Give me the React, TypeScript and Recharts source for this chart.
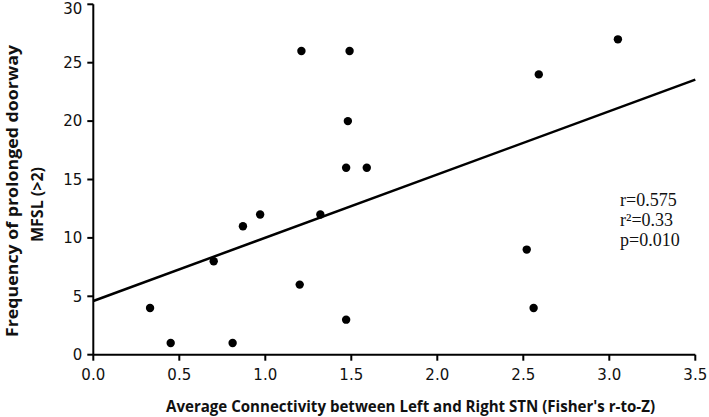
import React from 'react';
import { ScatterChart, Scatter, XAxis, YAxis, ReferenceLine, Customized } from 'recharts';

const connectivity = [0.33, 0.45, 0.70, 0.81, 0.87, 0.97, 1.20, 1.21, 1.32, 1.47, 1.47, 1.48, 1.49, 1.59, 2.52, 2.56, 2.59, 3.05];
const frequency = [4, 1, 8, 1, 11, 12, 6, 26, 12, 16, 3, 20, 26, 16, 9, 4, 24, 27];
const xTicks = [0, 0.5, 1, 1.5, 2, 2.5, 3, 3.5];
const yTicks = [0, 5, 10, 15, 20, 25, 30];
const fitX = [0, 3.5];
const fitY = [4.6, 23.55];
const statLines = ['r=0.575', 'r²=0.33', 'p=0.010'];
const yTitleLines = ['Frequency of prolonged doorway', 'MFSL (>2)'];
const xTitle = "Average Connectivity between Left and Right STN (Fisher's r-to-Z)";

const points = connectivity.map((x, i) => ({ x, y: frequency[i] }));

const Dot = (props: any) => <circle cx={props.cx} cy={props.cy} r={4.2} fill="#000" />;

const Annotations = () => (
  <g>
    <text x={166} y={412} fontFamily="Open Sans" fontWeight="bold" fontSize={16} fill="#111" textLength={489} lengthAdjust="spacingAndGlyphs">
      {xTitle}
    </text>
    <text x={18} y={191} transform="rotate(-90 18 191)" textAnchor="middle" fontFamily="Open Sans" fontWeight="bold" fontSize={16} fill="#111" textLength={292} lengthAdjust="spacingAndGlyphs">
      {yTitleLines[0]}
    </text>
    <text x={43} y={204.5} transform="rotate(-90 43 204.5)" textAnchor="middle" fontFamily="Open Sans" fontWeight="bold" fontSize={16} fill="#111" textLength={75} lengthAdjust="spacingAndGlyphs">
      {yTitleLines[1]}
    </text>
    {statLines.map((s, i) => (
      <text key={i} x={620} y={206 + i * 20} fontFamily="Liberation Serif" fontSize={18} fill="#111">
        {s}
      </text>
    ))}
  </g>
);

export default function App() {
  return (
    <div style={{ position: 'absolute', left: 0, top: 0, background: '#fff' }}>
      <ScatterChart width={709} height={417} margin={{ top: 4.3, right: 13.7, left: 0, bottom: 0 }}>
        <XAxis
          type="number"
          dataKey="x"
          domain={[0, 3.5]}
          ticks={xTicks}
          tickFormatter={(v: number) => v.toFixed(1)}
          height={62.3}
          axisLine={{ stroke: '#000', strokeWidth: 2 }}
          tickLine={{ stroke: '#000', strokeWidth: 2 }}
          tickSize={6}
          tickMargin={8.6}
          tick={{ fill: '#111', fontSize: 15, fontFamily: 'DejaVu Sans' }}
          allowDataOverflow
        />
        <YAxis
          type="number"
          dataKey="y"
          domain={[0, 30]}
          ticks={yTicks}
          width={93.3}
          axisLine={{ stroke: '#000', strokeWidth: 2 }}
          tickLine={{ stroke: '#000', strokeWidth: 2 }}
          tickSize={6}
          tickMargin={5}
          tick={{ fill: '#111', fontSize: 15, fontFamily: 'DejaVu Sans' }}
          allowDataOverflow
        />
        <ReferenceLine
          segment={[{ x: fitX[0], y: fitY[0] }, { x: fitX[1], y: fitY[1] }]}
          stroke="#000"
          strokeWidth={2.5}
          ifOverflow="visible"
        />
        <Scatter data={points} shape={Dot} isAnimationActive={false} />
        <Customized component={Annotations} />
      </ScatterChart>
    </div>
  );
}
